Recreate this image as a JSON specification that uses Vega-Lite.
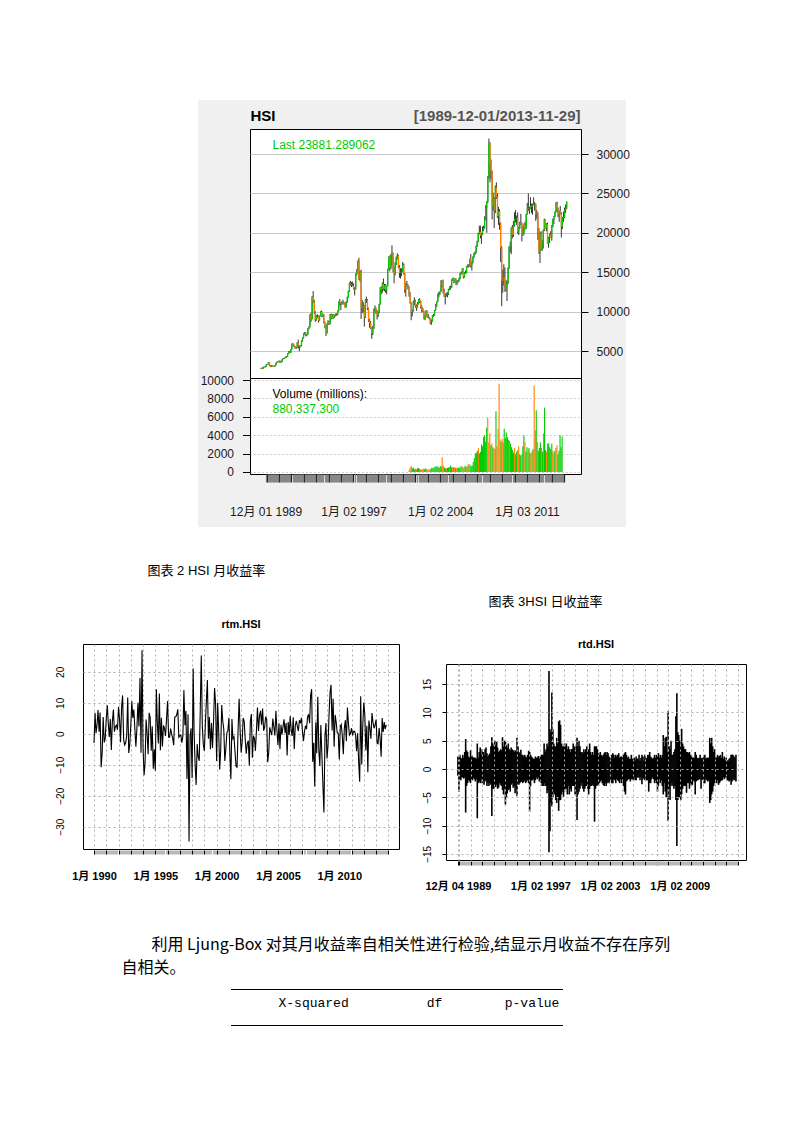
{
"$schema":"https://vega.github.io/schema/vega-lite/v6.json",
"padding":0,
"background":"white",
"config":{"view":{"stroke":null},"font":"Liberation Sans, Noto Sans CJK SC","point":{"size":0}},
"datasets":{
"one":[{}],
"hsi":[
{"d":"1989-12-01","o":2760,"h":2860,"l":2740,"c":2837,"lo":-1.2,"hi":2.2},
{"d":"1990-01-01","o":2837,"h":2880,"l":2700,"c":2753,"r":-3.0,"lo":-4,"hi":2},
{"d":"1990-02-01","o":2753,"h":2990,"l":2730,"c":2946,"r":6.8,"lo":-1.8,"hi":2.5},
{"d":"1990-03-01","o":2946,"h":3060,"l":2900,"c":2952,"r":0.2,"lo":-2,"hi":2},
{"d":"1990-04-01","o":2952,"h":3080,"l":2930,"c":3040,"r":2.9,"lo":-1.5,"hi":1.8},
{"d":"1990-05-01","o":3040,"h":3320,"l":3010,"c":3283,"r":7.7,"lo":-1.5,"hi":2.5},
{"d":"1990-06-01","o":3283,"h":3360,"l":3230,"c":3305,"r":0.7,"lo":-1.7,"hi":2},
{"d":"1990-07-01","o":3305,"h":3580,"l":3290,"c":3541,"r":6.9,"lo":-1.5,"hi":3},
{"d":"1990-08-01","o":3541,"h":3560,"l":3080,"c":3180,"r":-10.8,"lo":-7.7,"hi":5.3},
{"d":"1990-09-01","o":3180,"h":3250,"l":2950,"c":2991,"r":-6.1,"lo":-3,"hi":3.3},
{"d":"1990-10-01","o":2991,"h":3200,"l":2960,"c":3158,"r":5.4,"lo":-2.5,"hi":3},
{"d":"1990-11-01","o":3158,"h":3220,"l":3040,"c":3070,"r":-2.8,"lo":-2,"hi":2.2},
{"d":"1990-12-01","o":3070,"h":3110,"l":2990,"c":3025,"r":-1.5,"lo":-2.2,"hi":2},
{"d":"1991-01-01","o":3025,"h":3200,"l":2980,"c":3177,"r":4.9,"lo":-2.5,"hi":3.3},
{"d":"1991-02-01","o":3177,"h":3520,"l":3150,"c":3482,"r":9.2,"lo":-1.8,"hi":2.5},
{"d":"1991-03-01","o":3482,"h":3660,"l":3450,"c":3610,"r":3.6,"lo":-2,"hi":2.2},
{"d":"1991-04-01","o":3610,"h":3680,"l":3540,"c":3574,"r":-1.0,"lo":-1.6,"hi":2},
{"d":"1991-05-01","o":3574,"h":3790,"l":3550,"c":3750,"r":4.8,"lo":-1.8,"hi":2},
{"d":"1991-06-01","o":3750,"h":3780,"l":3500,"c":3560,"r":-5.2,"lo":-2.2,"hi":2},
{"d":"1991-07-01","o":3560,"h":3740,"l":3530,"c":3700,"r":3.9,"lo":-1.8,"hi":1.8},
{"d":"1991-08-01","o":3700,"h":4050,"l":3600,"c":4000,"r":7.8,"lo":-8.7,"hi":4.5},
{"d":"1991-09-01","o":4000,"h":4100,"l":3950,"c":4030,"r":0.7,"lo":-2.5,"hi":2},
{"d":"1991-10-01","o":4030,"h":4170,"l":3990,"c":4122,"r":2.3,"lo":-2.2,"hi":3},
{"d":"1991-11-01","o":4122,"h":4300,"l":4080,"c":4240,"r":2.8,"lo":-2.5,"hi":3.8},
{"d":"1991-12-01","o":4240,"h":4330,"l":4150,"c":4297,"r":1.3,"lo":-1.8,"hi":2.5},
{"d":"1992-01-01","o":4297,"h":4720,"l":4260,"c":4686,"r":8.7,"lo":-2.5,"hi":3.5},
{"d":"1992-02-01","o":4686,"h":4980,"l":4650,"c":4912,"r":4.7,"lo":-2.2,"hi":3},
{"d":"1992-03-01","o":4912,"h":4990,"l":4700,"c":4783,"r":-2.7,"lo":-2.8,"hi":2.5},
{"d":"1992-04-01","o":4783,"h":5250,"l":4750,"c":5205,"r":8.5,"lo":-2,"hi":3.5},
{"d":"1992-05-01","o":5205,"h":5950,"l":5180,"c":5894,"r":12.4,"lo":-2.2,"hi":3.8},
{"d":"1992-06-01","o":5894,"h":6030,"l":5700,"c":5788,"r":-1.8,"lo":-3,"hi":2.8},
{"d":"1992-07-01","o":5788,"h":5830,"l":5500,"c":5581,"r":-3.6,"lo":-2.5,"hi":2.2},
{"d":"1992-08-01","o":5581,"h":5650,"l":5300,"c":5419,"r":-2.9,"lo":-3,"hi":2.5},
{"d":"1992-09-01","o":5419,"h":5500,"l":5250,"c":5394,"r":-0.5,"lo":-2.5,"hi":2.8},
{"d":"1992-10-01","o":5394,"h":6120,"l":5380,"c":6066,"r":11.7,"lo":-2.8,"hi":4},
{"d":"1992-11-01","o":6066,"h":6450,"l":5300,"c":5700,"r":-6.2,"lo":-8.3,"hi":5.6},
{"d":"1992-12-01","o":5700,"h":5750,"l":4980,"c":5512,"r":-3.4,"lo":-3.5,"hi":4.5},
{"d":"1993-01-01","o":5512,"h":5720,"l":5450,"c":5670,"r":2.8,"lo":-3.5,"hi":4},
{"d":"1993-02-01","o":5670,"h":6350,"l":5600,"c":6300,"r":10.5,"lo":-3,"hi":5},
{"d":"1993-03-01","o":6300,"h":6720,"l":6200,"c":6632,"r":5.1,"lo":-3.2,"hi":4.2},
{"d":"1993-04-01","o":6632,"h":7250,"l":6580,"c":7171,"r":7.8,"lo":-2.8,"hi":4.8},
{"d":"1993-05-01","o":7171,"h":7400,"l":7050,"c":7302,"r":1.8,"lo":-3.5,"hi":3.8},
{"d":"1993-06-01","o":7302,"h":7380,"l":6900,"c":6999,"r":-4.2,"lo":-3.3,"hi":3},
{"d":"1993-07-01","o":6999,"h":7200,"l":6850,"c":7114,"r":1.6,"lo":-2.5,"hi":3.2},
{"d":"1993-08-01","o":7114,"h":7900,"l":7080,"c":7862,"r":10.0,"lo":-2.8,"hi":3.5},
{"d":"1993-09-01","o":7862,"h":8150,"l":7750,"c":8052,"r":2.4,"lo":-3,"hi":3.3},
{"d":"1993-10-01","o":8052,"h":9700,"l":8000,"c":9640,"r":18.0,"lo":-3.7,"hi":5.6},
{"d":"1993-11-01","o":9640,"h":9850,"l":8700,"c":9072,"r":-6.1,"lo":-4.5,"hi":4},
{"d":"1993-12-01","o":9072,"h":11950,"l":9000,"c":11888,"r":27.0,"lo":-3.5,"hi":5},
{"d":"1994-01-01","o":11888,"h":12600,"l":11100,"c":11314,"r":-4.9,"lo":-6.3,"hi":4.8},
{"d":"1994-02-01","o":11314,"h":11500,"l":9700,"c":9900,"r":-13.4,"lo":-5,"hi":4.2},
{"d":"1994-03-01","o":9900,"h":10050,"l":8700,"c":9000,"r":-9.5,"lo":-4.3,"hi":3.8},
{"d":"1994-04-01","o":9000,"h":9550,"l":8850,"c":9420,"r":4.6,"lo":-3.7,"hi":4.5},
{"d":"1994-05-01","o":9420,"h":9650,"l":9200,"c":9436,"r":0.2,"lo":-3.5,"hi":3.5},
{"d":"1994-06-01","o":9436,"h":9500,"l":8600,"c":8833,"r":-6.6,"lo":-4,"hi":3.3},
{"d":"1994-07-01","o":8833,"h":9500,"l":8800,"c":9451,"r":6.8,"lo":-2.8,"hi":3.8},
{"d":"1994-08-01","o":9451,"h":10050,"l":9400,"c":9952,"r":5.2,"lo":-2.5,"hi":3.5},
{"d":"1994-09-01","o":9952,"h":10150,"l":9300,"c":9419,"r":-5.5,"lo":-3.3,"hi":3.3},
{"d":"1994-10-01","o":9419,"h":9750,"l":9300,"c":9649,"r":2.4,"lo":-3,"hi":3},
{"d":"1994-11-01","o":9649,"h":9700,"l":8500,"c":8615,"r":-11.3,"lo":-4.3,"hi":3.3},
{"d":"1994-12-01","o":8615,"h":8700,"l":7900,"c":8191,"r":-5.0,"lo":-3.5,"hi":3},
{"d":"1995-01-01","o":8191,"h":8250,"l":6900,"c":7270,"r":-11.9,"lo":-4.8,"hi":5.5},
{"d":"1995-02-01","o":7270,"h":8500,"l":7200,"c":8400,"r":14.4,"lo":-2.5,"hi":4},
{"d":"1995-03-01","o":8400,"h":8900,"l":8300,"c":8733,"r":3.9,"lo":-2.8,"hi":3},
{"d":"1995-04-01","o":8733,"h":8800,"l":8300,"c":8463,"r":-3.1,"lo":-2.5,"hi":2.8},
{"d":"1995-05-01","o":8463,"h":9700,"l":8400,"c":9636,"r":13.0,"lo":-2.3,"hi":3.4},
{"d":"1995-06-01","o":9636,"h":9750,"l":9000,"c":9143,"r":-5.3,"lo":-2.2,"hi":2.5},
{"d":"1995-07-01","o":9143,"h":9700,"l":9100,"c":9627,"r":5.2,"lo":-2.5,"hi":2.5},
{"d":"1995-08-01","o":9627,"h":9680,"l":9100,"c":9242,"r":-4.1,"lo":-2.3,"hi":2.2},
{"d":"1995-09-01","o":9242,"h":9600,"l":9200,"c":9495,"r":2.7,"lo":-2,"hi":2.5},
{"d":"1995-10-01","o":9495,"h":9750,"l":9400,"c":9670,"r":1.8,"lo":-2.5,"hi":2.2},
{"d":"1995-11-01","o":9670,"h":9800,"l":9450,"c":9599,"r":-0.7,"lo":-2.2,"hi":2},
{"d":"1995-12-01","o":9599,"h":10150,"l":9550,"c":10073,"r":4.8,"lo":-2,"hi":2.5},
{"d":"1996-01-01","o":10073,"h":11300,"l":10000,"c":11199,"r":10.6,"lo":-2.5,"hi":3.2},
{"d":"1996-02-01","o":11199,"h":11600,"l":10800,"c":11079,"r":-1.1,"lo":-7.5,"hi":3},
{"d":"1996-03-01","o":11079,"h":11200,"l":10200,"c":10960,"r":-1.1,"lo":-3,"hi":2.5},
{"d":"1996-04-01","o":10960,"h":11300,"l":10850,"c":11151,"r":1.7,"lo":-2,"hi":2.2},
{"d":"1996-05-01","o":11151,"h":11500,"l":11000,"c":11145,"r":-0.1,"lo":-2,"hi":2},
{"d":"1996-06-01","o":11145,"h":11250,"l":10850,"c":10995,"r":-1.4,"lo":-1.8,"hi":1.8},
{"d":"1996-07-01","o":10995,"h":11100,"l":10450,"c":10595,"r":-3.7,"lo":-2.5,"hi":1.8},
{"d":"1996-08-01","o":10595,"h":11300,"l":10550,"c":11186,"r":5.4,"lo":-2,"hi":2.2},
{"d":"1996-09-01","o":11186,"h":11900,"l":11100,"c":11824,"r":5.5,"lo":-1.5,"hi":2},
{"d":"1996-10-01","o":11824,"h":12650,"l":11750,"c":12576,"r":6.2,"lo":-1.8,"hi":2},
{"d":"1996-11-01","o":12576,"h":13700,"l":12500,"c":13606,"r":7.9,"lo":-1.5,"hi":2.3},
{"d":"1996-12-01","o":13606,"h":13900,"l":13300,"c":13451,"r":-1.1,"lo":-2.2,"hi":1.8},
{"d":"1997-01-01","o":13451,"h":13750,"l":13100,"c":13364,"r":-0.6,"lo":-2.2,"hi":2.2},
{"d":"1997-02-01","o":13364,"h":13800,"l":13200,"c":13314,"r":-0.4,"lo":-2.5,"hi":2.5},
{"d":"1997-03-01","o":13314,"h":13550,"l":12800,"c":12937,"r":-2.9,"lo":-3,"hi":2.5},
{"d":"1997-04-01","o":12937,"h":13100,"l":12050,"c":12834,"r":-0.8,"lo":-3,"hi":2.5},
{"d":"1997-05-01","o":12834,"h":14850,"l":12800,"c":14777,"r":14.1,"lo":-2.5,"hi":4.5},
{"d":"1997-06-01","o":14777,"h":15400,"l":14600,"c":15197,"r":2.8,"lo":-3,"hi":3},
{"d":"1997-07-01","o":15197,"h":16500,"l":15100,"c":16366,"r":7.4,"lo":-3,"hi":3.5},
{"d":"1997-08-01","o":16366,"h":16820,"l":14000,"c":14136,"r":-14.6,"lo":-4.3,"hi":4.5},
{"d":"1997-09-01","o":14136,"h":15200,"l":13800,"c":15049,"r":6.3,"lo":-3.8,"hi":4},
{"d":"1997-10-01","o":15049,"h":15300,"l":9060,"c":10623,"r":-34.8,"lo":-14.7,"hi":17.3},
{"d":"1997-11-01","o":10623,"h":11500,"l":9800,"c":10527,"r":-0.9,"lo":-11,"hi":7},
{"d":"1997-12-01","o":10527,"h":11200,"l":9900,"c":10723,"r":1.8,"lo":-6,"hi":6.5},
{"d":"1998-01-01","o":10723,"h":10800,"l":8100,"c":9291,"r":-14.3,"lo":-6.6,"hi":13.5},
{"d":"1998-02-01","o":9291,"h":11600,"l":9200,"c":11479,"r":21.1,"lo":-5,"hi":7},
{"d":"1998-03-01","o":11479,"h":11900,"l":11100,"c":11519,"r":0.3,"lo":-4,"hi":4.5},
{"d":"1998-04-01","o":11519,"h":11600,"l":10200,"c":10415,"r":-10.1,"lo":-4.5,"hi":4},
{"d":"1998-05-01","o":10415,"h":10500,"l":8700,"c":8832,"r":-16.5,"lo":-5.5,"hi":4},
{"d":"1998-06-01","o":8832,"h":9100,"l":7950,"c":8543,"r":-3.3,"lo":-6,"hi":5.5},
{"d":"1998-07-01","o":8543,"h":8800,"l":7800,"c":7933,"r":-7.4,"lo":-5,"hi":4.5},
{"d":"1998-08-01","o":7933,"h":8000,"l":6545,"c":7275,"r":-8.7,"lo":-7.4,"hi":8.4},
{"d":"1998-09-01","o":7275,"h":8200,"l":7000,"c":7883,"r":8.0,"lo":-5.5,"hi":8.6},
{"d":"1998-10-01","o":7883,"h":10400,"l":7800,"c":10155,"r":25.3,"lo":-5.5,"hi":7.8},
{"d":"1998-11-01","o":10155,"h":10800,"l":10000,"c":10402,"r":2.4,"lo":-4.5,"hi":4.5},
{"d":"1998-12-01","o":10402,"h":10500,"l":9700,"c":10049,"r":-3.5,"lo":-4,"hi":4},
{"d":"1999-01-01","o":10049,"h":10200,"l":9000,"c":9507,"r":-5.5,"lo":-4.9,"hi":4},
{"d":"1999-02-01","o":9507,"h":10000,"l":9300,"c":9858,"r":3.6,"lo":-4,"hi":4.5},
{"d":"1999-03-01","o":9858,"h":11000,"l":9800,"c":10942,"r":10.4,"lo":-3.5,"hi":4},
{"d":"1999-04-01","o":10942,"h":13100,"l":10900,"c":13019,"r":17.4,"lo":-3.5,"hi":4.5},
{"d":"1999-05-01","o":13019,"h":13200,"l":12200,"c":12816,"r":-1.6,"lo":-4.5,"hi":3.5},
{"d":"1999-06-01","o":12816,"h":13700,"l":12400,"c":13532,"r":5.4,"lo":-3,"hi":4},
{"d":"1999-07-01","o":13532,"h":14200,"l":12700,"c":12867,"r":-5.0,"lo":-4.5,"hi":3.5},
{"d":"1999-08-01","o":12867,"h":13500,"l":12600,"c":13327,"r":3.5,"lo":-3.5,"hi":3},
{"d":"1999-09-01","o":13327,"h":13500,"l":12400,"c":12733,"r":-4.6,"lo":-4,"hi":3.5},
{"d":"1999-10-01","o":12733,"h":13300,"l":12200,"c":13256,"r":4.0,"lo":-3,"hi":3.5},
{"d":"1999-11-01","o":13256,"h":15450,"l":13200,"c":15377,"r":14.8,"lo":-3,"hi":4.5},
{"d":"1999-12-01","o":15377,"h":17000,"l":15300,"c":16962,"r":9.8,"lo":-3,"hi":4},
{"d":"2000-01-01","o":16962,"h":17100,"l":15100,"c":15533,"r":-8.8,"lo":-4.5,"hi":3.5},
{"d":"2000-02-01","o":15533,"h":17300,"l":15400,"c":17169,"r":10.0,"lo":-4,"hi":4},
{"d":"2000-03-01","o":17169,"h":18400,"l":15900,"c":17407,"r":1.4,"lo":-9,"hi":5.5},
{"d":"2000-04-01","o":17407,"h":17500,"l":15000,"c":15519,"r":-11.5,"lo":-4.5,"hi":4},
{"d":"2000-05-01","o":15519,"h":15700,"l":13600,"c":14713,"r":-5.3,"lo":-4,"hi":5},
{"d":"2000-06-01","o":14713,"h":16300,"l":14600,"c":16155,"r":9.3,"lo":-3.5,"hi":4},
{"d":"2000-07-01","o":16155,"h":17000,"l":15900,"c":16841,"r":4.2,"lo":-3,"hi":3},
{"d":"2000-08-01","o":16841,"h":17400,"l":16600,"c":17097,"r":1.5,"lo":-2.5,"hi":3},
{"d":"2000-09-01","o":17097,"h":17200,"l":15500,"c":15649,"r":-8.8,"lo":-3.5,"hi":2.8},
{"d":"2000-10-01","o":15649,"h":15900,"l":14300,"c":14896,"r":-4.9,"lo":-4,"hi":3.5},
{"d":"2000-11-01","o":14896,"h":15500,"l":14200,"c":14940,"r":0.3,"lo":-3.5,"hi":3},
{"d":"2000-12-01","o":14940,"h":15500,"l":14500,"c":15096,"r":1.0,"lo":-3,"hi":3.5},
{"d":"2001-01-01","o":15096,"h":16300,"l":15000,"c":15909,"r":5.2,"lo":-3,"hi":4},
{"d":"2001-02-01","o":15909,"h":16100,"l":14700,"c":14788,"r":-7.3,"lo":-3.5,"hi":3},
{"d":"2001-03-01","o":14788,"h":14900,"l":12400,"c":12761,"r":-14.7,"lo":-4.5,"hi":3.5},
{"d":"2001-04-01","o":12761,"h":13600,"l":11900,"c":13387,"r":4.8,"lo":-3.5,"hi":4.5},
{"d":"2001-05-01","o":13387,"h":13900,"l":13100,"c":13174,"r":-1.6,"lo":-3,"hi":3},
{"d":"2001-06-01","o":13174,"h":13500,"l":12800,"c":13043,"r":-1.0,"lo":-3,"hi":2.5},
{"d":"2001-07-01","o":13043,"h":13200,"l":11900,"c":12322,"v":250,"r":-5.7,"lo":-2.8,"hi":3},
{"d":"2001-08-01","o":12322,"h":12500,"l":11000,"c":11090,"v":500,"r":-10.5,"lo":-3,"hi":2.5},
{"d":"2001-09-01","o":11090,"h":11200,"l":8900,"c":9951,"v":650,"r":-10.8,"lo":-9.3,"hi":4},
{"d":"2001-10-01","o":9951,"h":10300,"l":9400,"c":10073,"v":400,"r":1.2,"lo":-3.5,"hi":4},
{"d":"2001-11-01","o":10073,"h":11400,"l":10000,"c":11279,"v":450,"r":11.3,"lo":-3,"hi":4},
{"d":"2001-12-01","o":11279,"h":11800,"l":10800,"c":11397,"v":300,"r":1.0,"lo":-2.8,"hi":3.5},
{"d":"2002-01-01","o":11397,"h":11500,"l":10500,"c":10725,"v":350,"r":-6.1,"lo":-3,"hi":2.8},
{"d":"2002-02-01","o":10725,"h":10900,"l":10100,"c":10482,"v":300,"r":-2.3,"lo":-2.5,"hi":2.5},
{"d":"2002-03-01","o":10482,"h":11200,"l":10450,"c":11033,"v":400,"r":5.1,"lo":-2.2,"hi":3},
{"d":"2002-04-01","o":11033,"h":11600,"l":10900,"c":11498,"v":450,"r":4.1,"lo":-2,"hi":2.5},
{"d":"2002-05-01","o":11498,"h":11700,"l":11100,"c":11302,"v":350,"r":-1.7,"lo":-2.5,"hi":2.2},
{"d":"2002-06-01","o":11302,"h":11400,"l":10400,"c":10598,"v":300,"r":-6.4,"lo":-2.8,"hi":2.5},
{"d":"2002-07-01","o":10598,"h":10800,"l":9900,"c":10268,"v":250,"r":-3.2,"lo":-3,"hi":2.8},
{"d":"2002-08-01","o":10268,"h":10500,"l":9900,"c":10043,"v":300,"r":-2.2,"lo":-2.5,"hi":3},
{"d":"2002-09-01","o":10043,"h":10100,"l":9000,"c":9072,"v":350,"r":-10.2,"lo":-3,"hi":2.5},
{"d":"2002-10-01","o":9072,"h":9600,"l":8900,"c":9441,"v":300,"r":4.0,"lo":-2.5,"hi":3},
{"d":"2002-11-01","o":9441,"h":10200,"l":9400,"c":10069,"v":400,"r":6.4,"lo":-2.2,"hi":2.8},
{"d":"2002-12-01","o":10069,"h":10150,"l":9200,"c":9321,"v":300,"r":-7.7,"lo":-2.5,"hi":2.2},
{"d":"2003-01-01","o":9321,"h":9700,"l":9200,"c":9258,"v":300,"r":-0.7,"lo":-2.2,"hi":2},
{"d":"2003-02-01","o":9258,"h":9350,"l":9000,"c":9123,"v":250,"r":-1.5,"lo":-2,"hi":1.8},
{"d":"2003-03-01","o":9123,"h":9200,"l":8400,"c":8634,"v":300,"r":-5.5,"lo":-2.5,"hi":2.5},
{"d":"2003-04-01","o":8634,"h":9000,"l":8330,"c":8717,"v":350,"r":1.0,"lo":-2.5,"hi":2.8},
{"d":"2003-05-01","o":8717,"h":9550,"l":8700,"c":9487,"v":450,"r":8.5,"lo":-1.8,"hi":2.5},
{"d":"2003-06-01","o":9487,"h":9700,"l":9350,"c":9577,"v":400,"r":0.9,"lo":-2,"hi":2},
{"d":"2003-07-01","o":9577,"h":10200,"l":9500,"c":10134,"v":500,"r":5.7,"lo":-2.5,"hi":2.5},
{"d":"2003-08-01","o":10134,"h":10950,"l":10100,"c":10908,"v":600,"r":7.4,"lo":-1.8,"hi":2.2},
{"d":"2003-09-01","o":10908,"h":11300,"l":10600,"c":11230,"v":550,"r":2.9,"lo":-2,"hi":2.5},
{"d":"2003-10-01","o":11230,"h":12300,"l":11200,"c":12190,"v":650,"r":8.2,"lo":-2.2,"hi":2.8},
{"d":"2003-11-01","o":12190,"h":12500,"l":11800,"c":12317,"v":500,"r":1.0,"lo":-2.5,"hi":2},
{"d":"2003-12-01","o":12317,"h":12600,"l":12100,"c":12576,"v":450,"r":2.1,"lo":-1.8,"hi":2.2},
{"d":"2004-01-01","o":12576,"h":14000,"l":12500,"c":13289,"v":650,"r":5.5,"lo":-2.5,"hi":2.2},
{"d":"2004-02-01","o":13289,"h":13950,"l":13100,"c":13908,"v":600,"r":4.6,"lo":-2,"hi":2},
{"d":"2004-03-01","o":13908,"h":14060,"l":12300,"c":12682,"v":1600,"r":-9.2,"lo":-3,"hi":2.5},
{"d":"2004-04-01","o":12682,"h":12900,"l":11850,"c":11942,"v":700,"r":-6.0,"lo":-4,"hi":2.8},
{"d":"2004-05-01","o":11942,"h":12300,"l":10900,"c":12198,"v":500,"r":2.1,"lo":-4.5,"hi":3},
{"d":"2004-06-01","o":12198,"h":12400,"l":11900,"c":12286,"v":400,"r":0.7,"lo":-2.2,"hi":2.5},
{"d":"2004-07-01","o":12286,"h":12500,"l":11800,"c":12239,"v":400,"r":-0.4,"lo":-2,"hi":2},
{"d":"2004-08-01","o":12239,"h":12900,"l":12100,"c":12851,"v":450,"r":4.9,"lo":-1.8,"hi":2.2},
{"d":"2004-09-01","o":12851,"h":13200,"l":12700,"c":13120,"v":500,"r":2.1,"lo":-1.8,"hi":1.8},
{"d":"2004-10-01","o":13120,"h":13300,"l":12800,"c":13055,"v":550,"r":-0.5,"lo":-2.2,"hi":1.8},
{"d":"2004-11-01","o":13055,"h":14100,"l":13000,"c":14060,"v":700,"r":7.4,"lo":-1.8,"hi":2.5},
{"d":"2004-12-01","o":14060,"h":14300,"l":13900,"c":14230,"v":500,"r":1.2,"lo":-1.8,"hi":1.8},
{"d":"2005-01-01","o":14230,"h":14300,"l":13600,"c":13722,"v":550,"r":-3.6,"lo":-2,"hi":1.8},
{"d":"2005-02-01","o":13722,"h":14200,"l":13650,"c":14196,"v":500,"r":3.4,"lo":-1.5,"hi":2},
{"d":"2005-03-01","o":14196,"h":14250,"l":13400,"c":13517,"v":500,"r":-4.9,"lo":-2,"hi":1.5},
{"d":"2005-04-01","o":13517,"h":14000,"l":13350,"c":13908,"v":450,"r":2.9,"lo":-2,"hi":2.2},
{"d":"2005-05-01","o":13908,"h":14000,"l":13650,"c":13868,"v":400,"r":-0.3,"lo":-1.5,"hi":1.8},
{"d":"2005-06-01","o":13868,"h":14300,"l":13800,"c":14201,"v":450,"r":2.4,"lo":-1.5,"hi":1.8},
{"d":"2005-07-01","o":14201,"h":14950,"l":14100,"c":14880,"v":500,"r":4.7,"lo":-1.5,"hi":2.5},
{"d":"2005-08-01","o":14880,"h":15100,"l":14700,"c":14903,"v":450,"r":0.2,"lo":-2,"hi":1.5},
{"d":"2005-09-01","o":14903,"h":15500,"l":14800,"c":15429,"v":600,"r":3.5,"lo":-1.5,"hi":2},
{"d":"2005-10-01","o":15429,"h":15500,"l":14200,"c":14386,"v":650,"r":-7.0,"lo":-2.7,"hi":2.5},
{"d":"2005-11-01","o":14386,"h":15000,"l":14300,"c":14937,"v":500,"r":3.8,"lo":-1.8,"hi":2.2},
{"d":"2005-12-01","o":14937,"h":15200,"l":14800,"c":14876,"v":450,"r":-0.4,"lo":-1.5,"hi":1.5},
{"d":"2006-01-01","o":14876,"h":15800,"l":14850,"c":15753,"v":650,"r":5.7,"lo":-2,"hi":2.5},
{"d":"2006-02-01","o":15753,"h":16000,"l":15600,"c":15918,"v":600,"r":1.0,"lo":-1.5,"hi":2},
{"d":"2006-03-01","o":15918,"h":16000,"l":15600,"c":15805,"v":550,"r":-0.7,"lo":-2,"hi":1.8},
{"d":"2006-04-01","o":15805,"h":16700,"l":15700,"c":16661,"v":800,"r":5.3,"lo":-2,"hi":2.5},
{"d":"2006-05-01","o":16661,"h":17300,"l":15600,"c":15857,"v":900,"r":-4.9,"lo":-4,"hi":2.5},
{"d":"2006-06-01","o":15857,"h":16400,"l":15200,"c":16267,"v":700,"r":2.6,"lo":-2.5,"hi":3},
{"d":"2006-07-01","o":16267,"h":17000,"l":16100,"c":16971,"v":600,"r":4.2,"lo":-2.5,"hi":2.2},
{"d":"2006-08-01","o":16971,"h":17450,"l":16800,"c":17392,"v":700,"r":2.5,"lo":-1.8,"hi":2},
{"d":"2006-09-01","o":17392,"h":17650,"l":17200,"c":17543,"v":1100,"r":0.9,"lo":-1.5,"hi":1.8},
{"d":"2006-10-01","o":17543,"h":18400,"l":17400,"c":18324,"v":1500,"r":4.4,"lo":-1.8,"hi":2},
{"d":"2006-11-01","o":18324,"h":19000,"l":18200,"c":18960,"v":2000,"r":3.4,"lo":-2.5,"hi":2.5},
{"d":"2006-12-01","o":18960,"h":20000,"l":18800,"c":19965,"v":2100,"r":5.2,"lo":-2,"hi":2},
{"d":"2007-01-01","o":19965,"h":20900,"l":19800,"c":20106,"v":2300,"r":0.7,"lo":-2.5,"hi":2.5},
{"d":"2007-02-01","o":20106,"h":20900,"l":19300,"c":19651,"v":2600,"r":-2.3,"lo":-4,"hi":2.5},
{"d":"2007-03-01","o":19651,"h":20000,"l":18600,"c":19801,"v":2000,"r":0.8,"lo":-3,"hi":2.8},
{"d":"2007-04-01","o":19801,"h":20800,"l":19700,"c":20319,"v":2200,"r":2.6,"lo":-1.8,"hi":2},
{"d":"2007-05-01","o":20319,"h":20900,"l":20200,"c":20635,"v":3000,"r":1.5,"lo":-2.5,"hi":2.5},
{"d":"2007-06-01","o":20635,"h":22100,"l":20500,"c":21773,"v":2800,"r":5.4,"lo":-2,"hi":2},
{"d":"2007-07-01","o":21773,"h":23500,"l":21600,"c":23185,"v":3800,"r":6.3,"lo":-3,"hi":2.5},
{"d":"2007-08-01","o":23185,"h":24000,"l":20000,"c":23984,"v":4000,"r":3.4,"lo":-4.5,"hi":6},
{"d":"2007-09-01","o":23984,"h":27200,"l":23800,"c":27142,"v":3300,"r":12.4,"lo":-2.5,"hi":4},
{"d":"2007-10-01","o":27142,"h":31958,"l":26900,"c":31352,"v":4800,"r":14.4,"lo":-4,"hi":5.5},
{"d":"2007-11-01","o":31352,"h":31500,"l":26400,"c":28643,"v":5900,"r":-9.0,"lo":-5,"hi":5.7},
{"d":"2007-12-01","o":28643,"h":29300,"l":26800,"c":27813,"v":3200,"r":-2.9,"lo":-3.5,"hi":3},
{"d":"2008-01-01","o":27813,"h":27900,"l":21700,"c":23456,"v":4200,"r":-17.0,"lo":-9.2,"hi":10.2},
{"d":"2008-02-01","o":23456,"h":25100,"l":22800,"c":24332,"v":2900,"r":3.7,"lo":-3.5,"hi":4},
{"d":"2008-03-01","o":24332,"h":24500,"l":20600,"c":22849,"v":3100,"r":-6.3,"lo":-5.5,"hi":3.5},
{"d":"2008-04-01","o":22849,"h":26000,"l":22500,"c":25755,"v":2700,"r":12.0,"lo":-3,"hi":5},
{"d":"2008-05-01","o":25755,"h":26400,"l":24300,"c":24533,"v":2600,"r":-4.9,"lo":-2.5,"hi":2.5},
{"d":"2008-06-01","o":24533,"h":25000,"l":21900,"c":22102,"v":2500,"r":-10.4,"lo":-3,"hi":2.5},
{"d":"2008-07-01","o":22102,"h":23300,"l":21000,"c":22731,"v":6600,"r":2.8,"lo":-3.5,"hi":3},
{"d":"2008-08-01","o":22731,"h":23000,"l":20400,"c":21262,"v":2800,"r":-6.7,"lo":-3,"hi":3.5},
{"d":"2008-09-01","o":21262,"h":21300,"l":16300,"c":18016,"v":4700,"r":-16.6,"lo":-5.5,"hi":9.3},
{"d":"2008-10-01","o":18016,"h":18300,"l":10676,"c":13969,"v":9600,"r":-25.4,"lo":-13.6,"hi":13.4},
{"d":"2008-11-01","o":13969,"h":15300,"l":12400,"c":13888,"v":3500,"r":-0.6,"lo":-5.5,"hi":6.5},
{"d":"2008-12-01","o":13888,"h":16000,"l":13300,"c":14387,"v":3300,"r":3.5,"lo":-5,"hi":6},
{"d":"2009-01-01","o":14387,"h":15600,"l":12500,"c":13278,"v":3600,"r":-8.0,"lo":-5,"hi":5},
{"d":"2009-02-01","o":13278,"h":14000,"l":12600,"c":12812,"v":3200,"r":-3.6,"lo":-5.5,"hi":4},
{"d":"2009-03-01","o":12812,"h":13900,"l":11345,"c":13576,"v":4700,"r":5.8,"lo":-4.5,"hi":7.1},
{"d":"2009-04-01","o":13576,"h":15600,"l":13500,"c":15521,"v":3700,"r":13.4,"lo":-3.5,"hi":4.5},
{"d":"2009-05-01","o":15521,"h":18300,"l":15400,"c":18171,"v":4300,"r":15.8,"lo":-3,"hi":4},
{"d":"2009-06-01","o":18171,"h":18900,"l":17500,"c":18379,"v":3800,"r":1.1,"lo":-3,"hi":3.5},
{"d":"2009-07-01","o":18379,"h":20700,"l":17300,"c":20573,"v":3500,"r":11.3,"lo":-3,"hi":3.5},
{"d":"2009-08-01","o":20573,"h":21000,"l":19300,"c":19724,"v":3400,"r":-4.2,"lo":-4.2,"hi":3},
{"d":"2009-09-01","o":19724,"h":21500,"l":19500,"c":20955,"v":3100,"r":6.1,"lo":-2.5,"hi":3},
{"d":"2009-10-01","o":20955,"h":22600,"l":20800,"c":21753,"v":2700,"r":3.7,"lo":-2.5,"hi":2.8},
{"d":"2009-11-01","o":21753,"h":22900,"l":21300,"c":21822,"v":2400,"r":0.3,"lo":-3.5,"hi":3},
{"d":"2009-12-01","o":21822,"h":22200,"l":21000,"c":21873,"v":2100,"r":0.2,"lo":-2.5,"hi":2.5},
{"d":"2010-01-01","o":21873,"h":22600,"l":19900,"c":20122,"v":2600,"r":-8.3,"lo":-3,"hi":2.5},
{"d":"2010-02-01","o":20122,"h":20800,"l":19700,"c":20609,"v":1900,"r":2.4,"lo":-2.8,"hi":2},
{"d":"2010-03-01","o":20609,"h":21400,"l":20500,"c":21239,"v":2200,"r":3.0,"lo":-2,"hi":2},
{"d":"2010-04-01","o":21239,"h":22400,"l":21000,"c":21108,"v":2400,"r":-0.6,"lo":-2.2,"hi":2},
{"d":"2010-05-01","o":21108,"h":21300,"l":18900,"c":19765,"v":2800,"r":-6.6,"lo":-4.5,"hi":3},
{"d":"2010-06-01","o":19765,"h":20800,"l":19600,"c":20129,"v":1900,"r":1.8,"lo":-2.2,"hi":2.5},
{"d":"2010-07-01","o":20129,"h":21200,"l":19800,"c":21030,"v":1800,"r":4.4,"lo":-2,"hi":2},
{"d":"2010-08-01","o":21030,"h":21400,"l":20400,"c":20537,"v":1900,"r":-2.4,"lo":-2,"hi":1.8},
{"d":"2010-09-01","o":20537,"h":22400,"l":20500,"c":22359,"v":2800,"r":8.5,"lo":-1.8,"hi":2},
{"d":"2010-10-01","o":22359,"h":23800,"l":22300,"c":23096,"v":4000,"r":3.2,"lo":-1.8,"hi":2.5},
{"d":"2010-11-01","o":23096,"h":24990,"l":22800,"c":23008,"v":3300,"r":-0.4,"lo":-3.5,"hi":2},
{"d":"2010-12-01","o":23008,"h":23300,"l":22400,"c":23035,"v":2200,"r":0.1,"lo":-1.8,"hi":1.8},
{"d":"2011-01-01","o":23035,"h":24500,"l":23000,"c":23447,"v":2700,"r":1.8,"lo":-2,"hi":2},
{"d":"2011-02-01","o":23447,"h":23700,"l":22500,"c":23338,"v":2400,"r":-0.5,"lo":-2.5,"hi":2.2},
{"d":"2011-03-01","o":23338,"h":23700,"l":22300,"c":23528,"v":2600,"r":0.8,"lo":-2.5,"hi":2.5},
{"d":"2011-04-01","o":23528,"h":24500,"l":23500,"c":23720,"v":2000,"r":0.8,"lo":-1.8,"hi":1.8},
{"d":"2011-05-01","o":23720,"h":23900,"l":22800,"c":23684,"v":2100,"r":-0.2,"lo":-2,"hi":2},
{"d":"2011-06-01","o":23684,"h":23700,"l":21500,"c":22398,"v":2300,"r":-5.6,"lo":-2.2,"hi":2},
{"d":"2011-07-01","o":22398,"h":22900,"l":21800,"c":22440,"v":2500,"r":0.2,"lo":-2,"hi":2},
{"d":"2011-08-01","o":22440,"h":22600,"l":19100,"c":20535,"v":9400,"r":-8.9,"lo":-6,"hi":5.5},
{"d":"2011-09-01","o":20535,"h":20600,"l":17300,"c":17592,"v":4500,"r":-15.5,"lo":-5.5,"hi":4.5},
{"d":"2011-10-01","o":17592,"h":20100,"l":16170,"c":19864,"v":6700,"r":12.1,"lo":-4.5,"hi":5.5},
{"d":"2011-11-01","o":19864,"h":20200,"l":17800,"c":17989,"v":3300,"r":-9.9,"lo":-4,"hi":4},
{"d":"2011-12-01","o":17989,"h":19100,"l":17700,"c":18434,"v":2300,"r":2.4,"lo":-3,"hi":3},
{"d":"2012-01-01","o":18434,"h":20400,"l":18000,"c":20390,"v":2600,"r":10.1,"lo":-2.5,"hi":3.5},
{"d":"2012-02-01","o":20390,"h":21800,"l":20200,"c":21680,"v":3200,"r":6.1,"lo":-2,"hi":2},
{"d":"2012-03-01","o":21680,"h":21700,"l":20500,"c":20556,"v":2600,"r":-5.3,"lo":-2.5,"hi":2},
{"d":"2012-04-01","o":20556,"h":21200,"l":20200,"c":21094,"v":2200,"r":2.6,"lo":-2,"hi":2.5},
{"d":"2012-05-01","o":21094,"h":21300,"l":18600,"c":18630,"v":4200,"r":-12.4,"lo":-2.8,"hi":2.2},
{"d":"2012-06-01","o":18630,"h":19500,"l":18100,"c":19441,"v":7000,"r":4.3,"lo":-2.5,"hi":2.3},
{"d":"2012-07-01","o":19441,"h":19900,"l":18700,"c":19796,"v":2400,"r":1.8,"lo":-2.2,"hi":2.5},
{"d":"2012-08-01","o":19796,"h":20200,"l":19400,"c":19483,"v":2200,"r":-1.6,"lo":-2,"hi":2},
{"d":"2012-09-01","o":19483,"h":21000,"l":19000,"c":20840,"v":3100,"r":6.7,"lo":-2,"hi":3},
{"d":"2012-10-01","o":20840,"h":21800,"l":20700,"c":21642,"v":3100,"r":3.8,"lo":-1.5,"hi":1.8},
{"d":"2012-11-01","o":21642,"h":22150,"l":21100,"c":22030,"v":2700,"r":1.8,"lo":-1.8,"hi":2.2},
{"d":"2012-12-01","o":22030,"h":22700,"l":22000,"c":22657,"v":2500,"r":2.8,"lo":-1.5,"hi":1.5},
{"d":"2013-01-01","o":22657,"h":23900,"l":22600,"c":23730,"v":3100,"r":4.6,"lo":-1.5,"hi":2},
{"d":"2013-02-01","o":23730,"h":23950,"l":22600,"c":23020,"v":2300,"r":-3.0,"lo":-2,"hi":1.5},
{"d":"2013-03-01","o":23020,"h":23200,"l":22000,"c":22300,"v":2000,"r":-3.2,"lo":-2,"hi":1.5},
{"d":"2013-04-01","o":22300,"h":22800,"l":21400,"c":22737,"v":2300,"r":1.9,"lo":-2.2,"hi":1.8},
{"d":"2013-05-01","o":22737,"h":23400,"l":22300,"c":22392,"v":2600,"r":-1.5,"lo":-2,"hi":2},
{"d":"2013-06-01","o":22392,"h":22600,"l":19400,"c":20803,"v":2900,"r":-7.4,"lo":-2.8,"hi":2.5},
{"d":"2013-07-01","o":20803,"h":22000,"l":20500,"c":21883,"v":1900,"r":5.1,"lo":-2.2,"hi":2.5},
{"d":"2013-08-01","o":21883,"h":22700,"l":21400,"c":22008,"v":2300,"r":0.6,"lo":-2,"hi":2.5},
{"d":"2013-09-01","o":22008,"h":23200,"l":21900,"c":22860,"v":4000,"r":3.8,"lo":-1.8,"hi":2.2},
{"d":"2013-10-01","o":22860,"h":23600,"l":22500,"c":23206,"v":2700,"r":1.5,"lo":-2,"hi":2},
{"d":"2013-11-01","o":23206,"h":24000,"l":23000,"c":23881,"v":3850,"r":2.9,"lo":-2.2,"hi":2.5}
]},
"bounds":"flush",
"spacing":0,
"vconcat":[
{"bounds":"flush","spacing":0,"hconcat":[
 {"width":198,"height":1,"data":{"name":"one"},"mark":{"type":"point","opacity":0,"size":0},"encoding":{}},
 {"bounds":"flush","spacing":0,"vconcat":[
  {"width":1,"height":100,"data":{"name":"one"},"mark":{"type":"point","opacity":0,"size":0},"encoding":{}},
  {"width":428,"height":427,"view":{"fill":"#f0f0f0","stroke":null},"data":{"name":"one"},"mark":{"type":"point","opacity":0,"size":0},"encoding":{}}
 ]}
]},
{"bounds":"flush","spacing":0,"hconcat":[
 {"width":250,"height":1,"data":{"name":"one"},"mark":{"type":"point","opacity":0,"size":0},"encoding":{}},
 {"bounds":"flush","spacing":0,"vconcat":[
  {"width":1,"height":129,"data":{"name":"one"},"mark":{"type":"point","opacity":0,"size":0},"encoding":{}},
  {"width":331,"height":249,"view":{"fill":"white","stroke":"black","strokeWidth":1},
   "data":{"name":"hsi"},
   "layer":[
    {"mark":{"type":"rule","color":"#333333","strokeWidth":1},
     "encoding":{
      "x":{"field":"d","type":"temporal","scale":{"type":"utc","domain":[{"year":1989,"month":1,"date":21,"utc":true},{"year":2014,"month":12,"date":15,"utc":true}]},"axis":null},
      "y":{"field":"l","type":"quantitative","scale":{"domain":[1574,33173],"nice":false,"zero":false},
           "axis":{"orient":"right","values":[5000,10000,15000,20000,25000,30000],"format":"d","tickSize":7,"tickColor":"black","tickWidth":1,"labelPadding":8,"labelFontSize":12,"labelColor":"#1a1a1a","labelOverlap":false,"grid":true,"gridColor":"#c8c8c8","gridWidth":1,"domain":false,"title":null}},
      "y2":{"field":"h"}}},
    {"mark":{"type":"rule","strokeWidth":1.3},
     "encoding":{
      "x":{"field":"d","type":"temporal","axis":null},
      "y":{"field":"o","type":"quantitative"},
      "y2":{"field":"c"},
      "color":{"condition":{"test":"datum.c >= datum.o","value":"#00cc00"},"value":"#ff7f00"}}}
   ]},
  {"width":331,"height":96,"view":{"fill":"white","stroke":"black","strokeWidth":1},
   "data":{"name":"hsi"},"transform":[{"filter":"datum.v > 0"}],
   "mark":{"type":"bar","width":1.1},
   "encoding":{
    "x":{"field":"d","type":"temporal","scale":{"type":"utc","domain":[{"year":1989,"month":1,"date":21,"utc":true},{"year":2014,"month":12,"date":15,"utc":true}]},
     "axis":{"orient":"bottom","tickCount":{"interval":"month","step":1},"tickSize":8,"tickWidth":1.2,
       "tickColor":{"condition":{"test":"utcmonth(datum.value)==0","value":"#222222"},"value":"#888888"},
       "tickOpacity":{"condition":{"test":"datum.value < utc(1989,11,1) || datum.value > utc(2014,0,1)","value":0},"value":1},
       "labelExpr":"(utcyear(datum.value)==1989 && utcmonth(datum.value)==11) ? '12月 01 1989' : (utcmonth(datum.value)==0 && utcyear(datum.value)==1997) ? '1月 02 1997' : (utcmonth(datum.value)==0 && utcyear(datum.value)==2004) ? '1月 02 2004' : (utcmonth(datum.value)==0 && utcyear(datum.value)==2011) ? '1月 03 2011' : ''",
       "labelOverlap":false,"labelFlush":false,"labelBound":false,"labelPadding":24,"labelFontSize":12,"labelColor":"#1a1a1a","domain":false,"grid":false,"title":null}},
    "y":{"field":"v","type":"quantitative","scale":{"domain":[-218,10218],"nice":false,"zero":false},
     "axis":{"orient":"left","values":[0,2000,4000,6000,8000,10000],"format":"d","tickSize":7.5,"tickColor":"black","labelPadding":9,"labelFontSize":12,"labelColor":"#1a1a1a","labelOverlap":false,"domain":false,"grid":true,"gridDash":[1,3],"gridColor":"#a0a0a0","title":null}},
    "y2":{"datum":0},
    "color":{"condition":{"test":"datum.c >= datum.o","value":"#00cc00"},"value":"#ff7f00"}}}
 ]}
]},
{"bounds":"flush","spacing":0,"hconcat":[
 {"width":250,"height":1,"data":{"name":"one"},"mark":{"type":"point","opacity":0,"size":0},"encoding":{}},
 {"bounds":"flush","spacing":0,"vconcat":[
  {"width":1,"height":115,"data":{"name":"one"},"mark":{"type":"point","opacity":0,"size":0},"encoding":{}},
  {"width":1,"height":1,"data":{"values":[{"t":"HSI"}]},"mark":{"type":"text","align":"left","baseline":"middle","fontSize":15,"fontWeight":"bold","color":"black"},"encoding":{"text":{"field":"t"}}}
 ]}
]},
{"bounds":"flush","spacing":0,"hconcat":[
 {"width":580,"height":1,"data":{"name":"one"},"mark":{"type":"point","opacity":0,"size":0},"encoding":{}},
 {"bounds":"flush","spacing":0,"vconcat":[
  {"width":1,"height":115,"data":{"name":"one"},"mark":{"type":"point","opacity":0,"size":0},"encoding":{}},
  {"width":1,"height":1,"data":{"values":[{"t":"[1989-12-01/2013-11-29]"}]},"mark":{"type":"text","align":"right","baseline":"middle","fontSize":15,"fontWeight":"bold","color":"#555555"},"encoding":{"text":{"field":"t"}}}
 ]}
]},
{"bounds":"flush","spacing":0,"hconcat":[
 {"width":272,"height":1,"data":{"name":"one"},"mark":{"type":"point","opacity":0,"size":0},"encoding":{}},
 {"bounds":"flush","spacing":0,"vconcat":[
  {"width":1,"height":144,"data":{"name":"one"},"mark":{"type":"point","opacity":0,"size":0},"encoding":{}},
  {"width":1,"height":1,"data":{"values":[{"t":"Last 23881.289062"}]},"mark":{"type":"text","align":"left","baseline":"middle","fontSize":12,"color":"#00cc00"},"encoding":{"text":{"field":"t"}}},
  {"width":1,"height":248,"data":{"name":"one"},"mark":{"type":"point","opacity":0,"size":0},"encoding":{}},
  {"width":1,"height":1,"data":{"values":[{"t":"Volume (millions):"}]},"mark":{"type":"text","align":"left","baseline":"middle","fontSize":12,"color":"black"},"encoding":{"text":{"field":"t"}}},
  {"width":1,"height":14,"data":{"name":"one"},"mark":{"type":"point","opacity":0,"size":0},"encoding":{}},
  {"width":1,"height":1,"data":{"values":[{"t":"880,337,300"}]},"mark":{"type":"text","align":"left","baseline":"middle","fontSize":12,"color":"#00cc00"},"encoding":{"text":{"field":"t"}}}
 ]}
]},
{"bounds":"flush","spacing":0,"hconcat":[
 {"width":147,"height":1,"data":{"name":"one"},"mark":{"type":"point","opacity":0,"size":0},"encoding":{}},
 {"bounds":"flush","spacing":0,"vconcat":[
  {"width":1,"height":570,"data":{"name":"one"},"mark":{"type":"point","opacity":0,"size":0},"encoding":{}},
  {"width":1,"height":1,"data":{"values":[{"t":"图表  2 HSI 月收益率"}]},"mark":{"type":"text","align":"left","baseline":"middle","fontSize":13,"color":"black"},"encoding":{"text":{"field":"t"}}}
 ]}
]},
{"bounds":"flush","spacing":0,"hconcat":[
 {"width":488,"height":1,"data":{"name":"one"},"mark":{"type":"point","opacity":0,"size":0},"encoding":{}},
 {"bounds":"flush","spacing":0,"vconcat":[
  {"width":1,"height":601,"data":{"name":"one"},"mark":{"type":"point","opacity":0,"size":0},"encoding":{}},
  {"width":1,"height":1,"data":{"values":[{"t":"图表  3HSI 日收益率"}]},"mark":{"type":"text","align":"left","baseline":"middle","fontSize":13,"color":"black"},"encoding":{"text":{"field":"t"}}}
 ]}
]},
{"bounds":"flush","spacing":0,"hconcat":[
 {"width":83,"height":1,"data":{"name":"one"},"mark":{"type":"point","opacity":0,"size":0},"encoding":{}},
 {"bounds":"flush","spacing":0,"vconcat":[
  {"width":1,"height":644,"data":{"name":"one"},"mark":{"type":"point","opacity":0,"size":0},"encoding":{}},
  {"width":316,"height":205,"view":{"fill":"white","stroke":"black","strokeWidth":1},
   "title":{"text":"rtm.HSI","fontSize":11,"fontWeight":"bold","offset":14,"anchor":"middle","color":"black"},
   "data":{"name":"hsi"},"transform":[{"filter":"isValid(datum.r)"}],
   "mark":{"type":"line","color":"black","strokeWidth":1.1},
   "encoding":{
    "x":{"field":"d","type":"temporal","scale":{"type":"utc","domain":[{"year":1989,"month":2,"date":7,"utc":true},{"year":2014,"month":11,"date":15,"utc":true}]},
     "axis":{"orient":"bottom","offset":1,"tickCount":{"interval":"month","step":1},"tickSize":4,"tickWidth":1,
       "tickColor":{"condition":{"test":"utcmonth(datum.value)==0","value":"black"},"value":"#b8b8b8"},
       "tickOpacity":{"condition":{"test":"datum.value < utc(1990,0,1) || datum.value > utc(2014,0,1)","value":0},"value":1},
       "grid":true,"gridDash":[2,3],"gridColor":"#b0b0b0",
       "gridOpacity":{"condition":{"test":"utcmonth(datum.value)==0 && datum.value >= utc(1990,0,1) && datum.value <= utc(2014,0,1)","value":1},"value":0},
       "labelExpr":"(utcmonth(datum.value)==0 && utcyear(datum.value)%5==0 && utcyear(datum.value)<=2010) ? '1月 ' + utcyear(datum.value) : ''",
       "labelOverlap":false,"labelFlush":false,"labelBound":false,"labelPadding":16,"labelFontSize":11,"labelFontWeight":"bold","labelColor":"black","domain":false,"title":null}},
    "y":{"field":"r","type":"quantitative","scale":{"domain":[-37.2,29.0],"nice":false,"zero":false},
     "axis":{"orient":"left","values":[-30,-20,-10,0,10,20],"format":"d","ticks":false,"domain":false,"labelAngle":-90,"labelAlign":"center","labelBaseline":"bottom","labelPadding":18,"labelFontSize":10,"labelColor":"black","labelOverlap":false,"grid":true,"gridDash":[2,3],"gridColor":"#b0b0b0","title":null}}
   }}
 ]}
]},
{"bounds":"flush","spacing":0,"hconcat":[
 {"width":446,"height":1,"data":{"name":"one"},"mark":{"type":"point","opacity":0,"size":0},"encoding":{}},
 {"bounds":"flush","spacing":0,"vconcat":[
  {"width":1,"height":664,"data":{"name":"one"},"mark":{"type":"point","opacity":0,"size":0},"encoding":{}},
  {"width":300,"height":196,"view":{"fill":"white","stroke":"black","strokeWidth":1},
   "title":{"text":"rtd.HSI","fontSize":11,"fontWeight":"bold","offset":14,"anchor":"middle","color":"black"},
   "data":{"name":"hsi"},
   "mark":{"type":"rule","color":"black","strokeWidth":1.6},
   "encoding":{
    "x":{"field":"d","type":"temporal","scale":{"type":"utc","domain":[{"year":1988,"month":11,"date":21,"utc":true},{"year":2014,"month":9,"date":13,"utc":true}]},
     "axis":{"orient":"bottom","offset":1,"zindex":1,"tickCount":{"interval":"month","step":1},"tickSize":4,"tickWidth":1,
       "tickColor":{"condition":{"test":"utcmonth(datum.value)==0 || (utcyear(datum.value)==1989 && utcmonth(datum.value)==11)","value":"black"},"value":"#b8b8b8"},
       "tickOpacity":{"condition":{"test":"datum.value < utc(1989,11,1) || datum.value > utc(2014,0,1)","value":0},"value":1},
       "grid":true,"gridDash":[2,3],"gridColor":"#b0b0b0",
       "gridOpacity":{"condition":{"test":"(utcmonth(datum.value)==0 || (utcyear(datum.value)==1989 && utcmonth(datum.value)==11)) && datum.value >= utc(1989,11,1) && datum.value <= utc(2014,0,1)","value":1},"value":0},
       "labelExpr":"(utcyear(datum.value)==1989 && utcmonth(datum.value)==11) ? '12月 04 1989' : (utcmonth(datum.value)==0 && (utcyear(datum.value)==1997 || utcyear(datum.value)==2003 || utcyear(datum.value)==2009)) ? '1月 02 ' + utcyear(datum.value) : ''",
       "labelOverlap":false,"labelFlush":false,"labelBound":false,"labelPadding":15,"labelFontSize":11,"labelFontWeight":"bold","labelColor":"black","domain":false,"title":null}},
    "y":{"field":"lo","type":"quantitative","scale":{"domain":[-16.08,18.55],"nice":false,"zero":false},
     "axis":{"orient":"left","zindex":1,"values":[-15,-10,-5,0,5,10,15],"format":"d","tickSize":4,"tickColor":"black","domain":false,"labelAngle":-90,"labelAlign":"center","labelBaseline":"bottom","labelPadding":10,"labelFontSize":10,"labelColor":"black","labelOverlap":false,"grid":true,"gridDash":[2,3],"gridColor":"#b0b0b0","title":null}},
    "y2":{"field":"hi"}
   }}
 ]}
]},
{"bounds":"flush","spacing":0,"hconcat":[
 {"width":151,"height":1,"data":{"name":"one"},"mark":{"type":"point","opacity":0,"size":0},"encoding":{}},
 {"bounds":"flush","spacing":0,"vconcat":[
  {"width":1,"height":944,"data":{"name":"one"},"mark":{"type":"point","opacity":0,"size":0},"encoding":{}},
  {"width":1,"height":1,"data":{"values":[{"t":"利用 Ljung-Box 对其月收益率自相关性进行检验,结显示月收益不存在序列"}]},"mark":{"type":"text","align":"left","baseline":"middle","font":"Noto Sans CJK SC","fontSize":16,"color":"black"},"encoding":{"text":{"field":"t"}}}
 ]}
]},
{"bounds":"flush","spacing":0,"hconcat":[
 {"width":121,"height":1,"data":{"name":"one"},"mark":{"type":"point","opacity":0,"size":0},"encoding":{}},
 {"bounds":"flush","spacing":0,"vconcat":[
  {"width":1,"height":967,"data":{"name":"one"},"mark":{"type":"point","opacity":0,"size":0},"encoding":{}},
  {"width":1,"height":1,"data":{"values":[{"t":"自相关。"}]},"mark":{"type":"text","align":"left","baseline":"middle","font":"Noto Sans CJK SC","fontSize":16,"color":"black"},"encoding":{"text":{"field":"t"}}}
 ]}
]},
{"bounds":"flush","spacing":0,"hconcat":[
 {"width":231,"height":1,"data":{"name":"one"},"mark":{"type":"point","opacity":0,"size":0},"encoding":{}},
 {"bounds":"flush","spacing":0,"vconcat":[
  {"width":1,"height":989,"data":{"name":"one"},"mark":{"type":"point","opacity":0,"size":0},"encoding":{}},
  {"width":332,"height":1,"view":{"fill":"black","stroke":null},"data":{"name":"one"},"mark":{"type":"point","opacity":0,"size":0},"encoding":{}},
  {"width":1,"height":35,"data":{"name":"one"},"mark":{"type":"point","opacity":0,"size":0},"encoding":{}},
  {"width":332,"height":1,"view":{"fill":"black","stroke":null},"data":{"name":"one"},"mark":{"type":"point","opacity":0,"size":0},"encoding":{}}
 ]}
]},
{"bounds":"flush","spacing":0,"hconcat":[
 {"width":278,"height":1,"data":{"name":"one"},"mark":{"type":"point","opacity":0,"size":0},"encoding":{}},
 {"bounds":"flush","spacing":0,"vconcat":[
  {"width":1,"height":1006,"data":{"name":"one"},"mark":{"type":"point","opacity":0,"size":0},"encoding":{}},
  {"width":1,"height":1,"data":{"values":[{"t":"X-squared\u00a0\u00a0\u00a0\u00a0\u00a0\u00a0\u00a0\u00a0\u00a0\u00a0df\u00a0\u00a0\u00a0\u00a0\u00a0\u00a0\u00a0\u00a0p-value"}]},"mark":{"type":"text","align":"left","baseline":"alphabetic","font":"Liberation Mono","fontSize":13,"color":"black"},"encoding":{"text":{"field":"t"}}}
 ]}
]}
]
}
